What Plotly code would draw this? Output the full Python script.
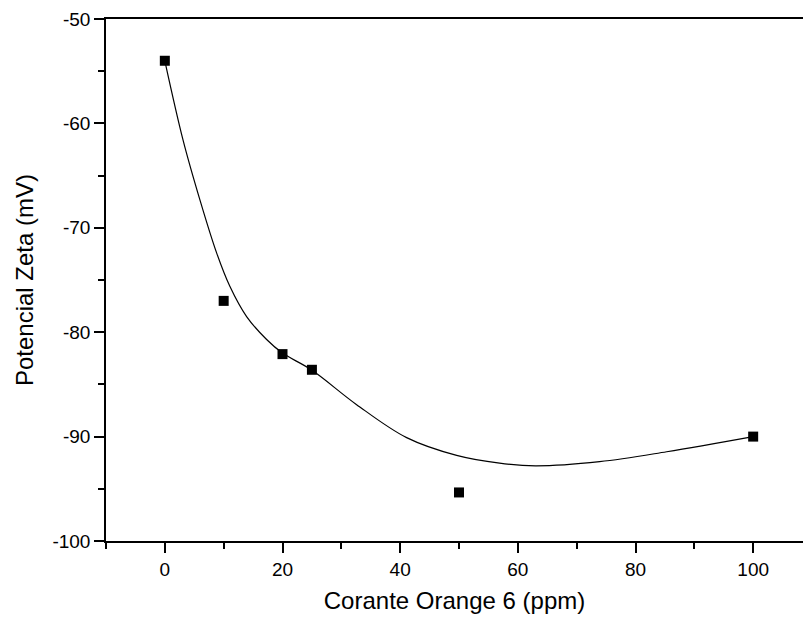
import plotly.graph_objects as go

# Measured data points
dye_ppm = [0, 10, 20, 25, 50, 100]
zeta_mv = [-54.0, -77.0, -82.1, -83.6, -95.35, -90.0]

# Smooth fitted curve
curve_x = [0, 3.1, 5.95, 8.8, 11.05, 13.9, 17.3, 20, 24.9, 32.6, 41.1,
           49.6, 56.9, 63.0, 73.9, 85.3, 100]
curve_y = [-54.0, -61.6, -67.3, -72.4, -75.6, -78.5, -80.7, -82.0, -83.6, -86.94, -90.1,
           -91.8, -92.55, -92.8, -92.4, -91.45, -90.0]

x_ticks = [0, 20, 40, 60, 80, 100]
x_ticklabels = ["0", "20", "40", "60", "80", "100"]
y_ticks = [-100, -90, -80, -70, -60, -50]
y_ticklabels = ["-100", "-90", "-80", "-70", "-60", "-50"]

x_title = "Corante Orange 6 (ppm)"
y_title = "Potencial Zeta (mV)"

fig = go.Figure()
fig.add_trace(go.Scatter(x=curve_x, y=curve_y, mode="lines",
                         line=dict(color="black", width=1.2, shape="spline", smoothing=1.0),
                         showlegend=False, hoverinfo="skip"))
fig.add_trace(go.Scatter(x=dye_ppm, y=zeta_mv, mode="markers",
                         marker=dict(symbol="square", size=10, color="black"),
                         showlegend=False))

font_family = "Liberation Sans, Arial, sans-serif"
fig.update_layout(
    width=803, height=623,
    margin=dict(l=106, r=0, t=19, b=82),
    paper_bgcolor="white", plot_bgcolor="white",
    font=dict(family=font_family, color="black"),
    xaxis=dict(range=[-10, 108.47], tickmode="array", tickvals=x_ticks, ticktext=x_ticklabels,
               ticks="outside", ticklen=10, tickwidth=1.5, tickcolor="black",
               minor=dict(dtick=10, tick0=0, ticks="outside", ticklen=6, tickwidth=1.5, tickcolor="black"),
               showline=True, linecolor="black", linewidth=1.5, mirror=True,
               showgrid=False, zeroline=False,
               tickfont=dict(size=19, family=font_family),
               title=dict(text=x_title, font=dict(size=24, family=font_family), standoff=14)),
    yaxis=dict(range=[-100, -50], tickmode="array", tickvals=y_ticks, ticktext=y_ticklabels,
               ticks="outside", ticklen=10, tickwidth=1.5, tickcolor="black",
               minor=dict(dtick=5, tick0=-100, ticks="outside", ticklen=6, tickwidth=1.5, tickcolor="black"),
               showline=True, linecolor="black", linewidth=1.5, mirror=False,
               showgrid=False, zeroline=False,
               tickfont=dict(size=19, family=font_family),
               title=dict(text=y_title, font=dict(size=24, family=font_family), standoff=12)),
)

fig.write_html("out.html")
